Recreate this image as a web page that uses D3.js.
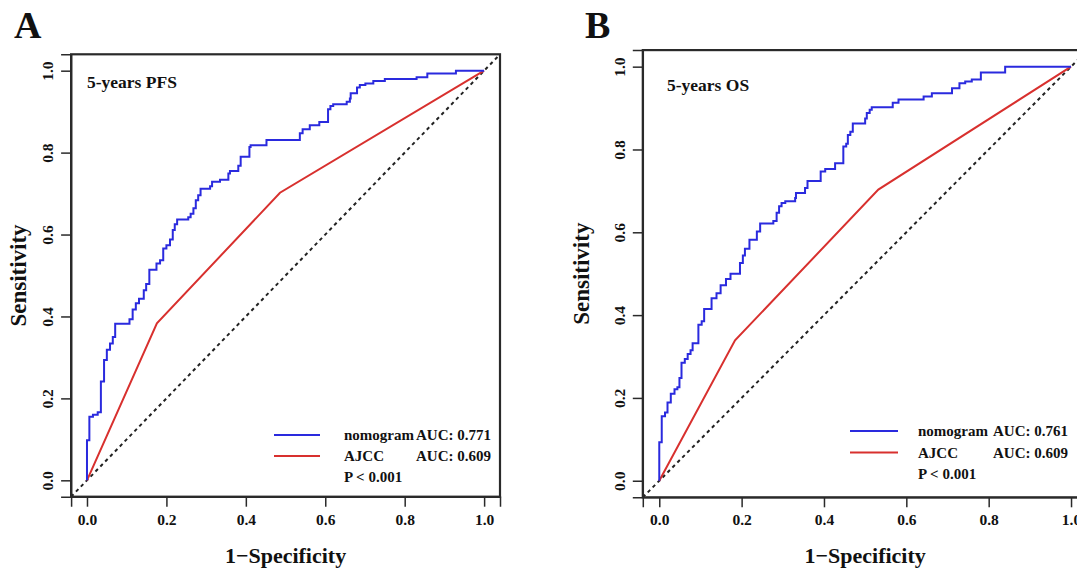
<!DOCTYPE html>
<html>
<head>
<meta charset="utf-8">
<script src="https://cdn.jsdelivr.net/npm/d3@7"></script>
<style>
  html, body { margin: 0; padding: 0; background: #fff; }
  svg text { font-family: "Liberation Serif", "Times New Roman", serif; font-weight: bold; fill: #111; }
</style>
</head>
<body>
<svg id="chart" width="1077" height="571"></svg>
<script>
// ROC step points: [1-specificity, sensitivity]
const pfsNomogram = [
  [0,0],[0,0.098],[0.006,0.155],[0.015,0.160],[0.027,0.166],[0.035,0.241],[0.043,0.294],
  [0.050,0.319],[0.058,0.334],[0.065,0.350],[0.071,0.382],[0.107,0.393],[0.115,0.417],
  [0.123,0.432],[0.131,0.443],[0.143,0.464],[0.149,0.479],[0.157,0.514],[0.175,0.529],
  [0.184,0.537],[0.192,0.566],[0.200,0.574],[0.209,0.588],[0.216,0.611],[0.221,0.625],
  [0.227,0.637],[0.255,0.642],[0.261,0.651],[0.268,0.664],[0.274,0.684],[0.280,0.696],
  [0.286,0.712],[0.310,0.718],[0.315,0.729],[0.335,0.734],[0.356,0.749],[0.360,0.755],
  [0.381,0.768],[0.387,0.790],[0.409,0.814],[0.412,0.818],[0.452,0.831],[0.536,0.847],
  [0.543,0.857],[0.561,0.867],[0.585,0.875],[0.607,0.906],[0.613,0.914],[0.620,0.918],
  [0.654,0.924],[0.662,0.932],[0.664,0.945],[0.680,0.959],[0.687,0.965],[0.701,0.969],
  [0.721,0.975],[0.750,0.980],[0.830,0.984],[0.857,0.993],[0.929,1],[1,1]
];
const pfsAjcc = [[0,0],[0.176,0.383],[0.486,0.702],[1,1]];

const osNomogram = [
  [0,0],[0,0.093],[0.006,0.156],[0.014,0.165],[0.020,0.189],[0.028,0.210],[0.037,0.221],
  [0.044,0.226],[0.049,0.248],[0.054,0.285],[0.062,0.294],[0.069,0.306],[0.076,0.315],
  [0.081,0.332],[0.095,0.377],[0.103,0.385],[0.109,0.415],[0.127,0.441],[0.139,0.453],
  [0.149,0.472],[0.162,0.487],[0.173,0.500],[0.196,0.526],[0.203,0.544],[0.208,0.560],
  [0.219,0.582],[0.237,0.602],[0.245,0.621],[0.277,0.627],[0.285,0.647],[0.291,0.663],
  [0.297,0.671],[0.306,0.675],[0.330,0.683],[0.332,0.695],[0.354,0.707],[0.360,0.724],
  [0.392,0.747],[0.403,0.753],[0.427,0.767],[0.447,0.807],[0.454,0.814],[0.458,0.835],
  [0.464,0.843],[0.470,0.863],[0.500,0.875],[0.504,0.888],[0.511,0.896],[0.516,0.902],
  [0.567,0.913],[0.581,0.921],[0.642,0.928],[0.662,0.936],[0.711,0.948],[0.729,0.960],
  [0.743,0.964],[0.759,0.969],[0.781,0.986],[0.840,1],[1,1]
];
const osAjcc = [[0,0],[0.184,0.339],[0.532,0.703],[1,1]];

const tickValues = [0, 0.2, 0.4, 0.6, 0.8, 1.0];
const seriesNames = ["nomogram", "AJCC"];
const aucPfs = ["AUC: 0.771", "AUC: 0.609"];
const aucOs = ["AUC: 0.761", "AUC: 0.609"];
const pText = "P < 0.001";

const BLUE = "#2a2ade";
const RED = "#d8302e";

const svg = d3.select("#chart");
svg.append("rect").attr("width", 1077).attr("height", 571).attr("fill", "#fff");

function drawPanel(cfg) {
  const x = d3.scaleLinear().domain([-0.04, 1.04]).range(cfg.xr);
  const y = d3.scaleLinear().domain([-0.04, 1.04]).range(cfg.yr);
  const g = svg.append("g");
  const clipId = "clip" + cfg.letter;
  g.append("clipPath").attr("id", clipId).append("rect")
    .attr("x", x(-0.04)).attr("y", y(1.04))
    .attr("width", x(1.04) - x(-0.04)).attr("height", y(-0.04) - y(1.04));

  // reference diagonal
  g.append("line")
    .attr("clip-path", `url(#${clipId})`)
    .attr("x1", x(-0.04)).attr("y1", y(-0.04)).attr("x2", x(1.04)).attr("y2", y(1.04))
    .attr("stroke", "#222").attr("stroke-width", 2).attr("stroke-dasharray", "3.5,3.5");

  const stepLine = d3.line().x(d => x(d[0])).y(d => y(d[1])).curve(d3.curveStepAfter);
  const polyLine = d3.line().x(d => x(d[0])).y(d => y(d[1]));

  g.append("path").datum(cfg.ajcc).attr("d", polyLine)
    .attr("fill", "none").attr("stroke", RED).attr("stroke-width", 2);
  g.append("path").datum(cfg.nomogram).attr("d", stepLine)
    .attr("fill", "none").attr("stroke", BLUE).attr("stroke-width", 2);

  // frame
  g.append("rect")
    .attr("x", x(-0.04)).attr("y", y(1.04))
    .attr("width", x(1.04) - x(-0.04)).attr("height", y(-0.04) - y(1.04))
    .attr("fill", "none").attr("stroke", "#2a2a2a").attr("stroke-width", 2.2);

  // axes
  const xAxis = d3.axisBottom(x).tickValues(tickValues).tickSize(10).tickFormat(d3.format(".1f"));
  const gx = g.append("g").attr("transform", `translate(0,${y(-0.04)})`).call(xAxis);
  gx.select(".domain").attr("stroke", "#2a2a2a").attr("stroke-width", 1.5);
  gx.selectAll(".tick line").attr("stroke", "#2a2a2a").attr("stroke-width", 1.5);
  gx.selectAll(".tick text")
    .attr("y", 28).attr("dy", 0)
    .style("font-family", "'Liberation Serif', serif").style("font-weight", "bold")
    .style("font-size", "15.5px").attr("fill", "#111");

  const yAxis = d3.axisLeft(y).tickValues(tickValues).tickSize(10).tickFormat(d3.format(".1f"));
  const gy = g.append("g").attr("transform", `translate(${x(-0.04)},0)`).call(yAxis);
  gy.select(".domain").attr("stroke", "#2a2a2a").attr("stroke-width", 1.5);
  gy.selectAll(".tick line").attr("stroke", "#2a2a2a").attr("stroke-width", 1.5);
  gy.selectAll(".tick text")
    .attr("x", 0).attr("dy", 0)
    .attr("text-anchor", "middle")
    .attr("transform", "translate(-18,0) rotate(-90)")
    .style("font-family", "'Liberation Serif', serif").style("font-weight", "bold")
    .style("font-size", "15.5px").attr("fill", "#111");

  // axis titles
  g.append("text")
    .attr("x", x(0.5)).attr("y", 563)
    .attr("text-anchor", "middle").style("font-size", "22px")
    .text("1\u2212Specificity");
  g.append("text")
    .attr("transform", `translate(${cfg.ylabX},${y(0.5)}) rotate(-90)`)
    .attr("text-anchor", "middle").style("font-size", "23px")
    .text("Sensitivity");

  // panel letter and subtitle
  g.append("text").attr("x", cfg.letterX).attr("y", 38)
    .style("font-size", "38px").text(cfg.letter);
  g.append("text").attr("x", cfg.titleX).attr("y", cfg.titleY)
    .style("font-size", "17.5px").text(cfg.title);

  // legend
  const lg = cfg.legend;
  const colors = [BLUE, RED];
  seriesNames.forEach((name, i) => {
    const ly = lg.y0 + i * lg.dy;
    g.append("line").attr("x1", lg.x1).attr("x2", lg.x2)
      .attr("y1", ly).attr("y2", ly)
      .attr("stroke", colors[i]).attr("stroke-width", 2);
    g.append("text").attr("x", lg.tx).attr("y", ly + 5)
      .style("font-size", "15px").text(name);
    g.append("text").attr("x", lg.ax).attr("y", ly + 5)
      .style("font-size", "15px").text(cfg.auc[i]);
  });
  g.append("text").attr("x", lg.tx).attr("y", lg.y0 + 2 * lg.dy + 5)
    .style("font-size", "15px").text(pText);
}

drawPanel({
  letter: "A", letterX: 14, title: "5-years PFS", titleX: 87, titleY: 88,
  xr: [71.1, 500], yr: [496.7, 54.3], ylabX: 26,
  nomogram: pfsNomogram, ajcc: pfsAjcc, auc: aucPfs,
  legend: { x1: 274, x2: 320, y0: 435, dy: 21, tx: 344, ax: 416 }
});

drawPanel({
  letter: "B", letterX: 585, title: "5-years OS", titleX: 667, titleY: 91,
  xr: [642.8, 1087.5], yr: [497.3, 50.1], ylabX: 589,
  nomogram: osNomogram, ajcc: osAjcc, auc: aucOs,
  legend: { x1: 850, x2: 898, y0: 431, dy: 21.5, tx: 918, ax: 993 }
});
</script>
</body>
</html>
